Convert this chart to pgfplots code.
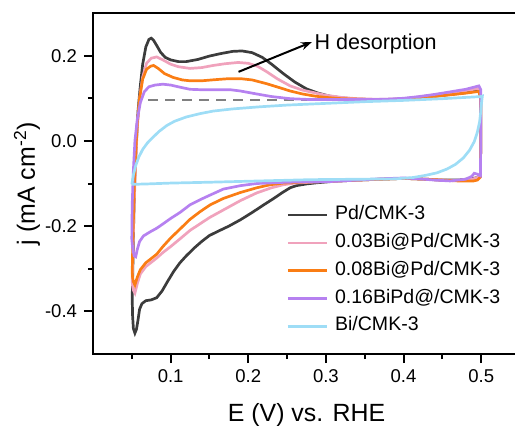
\documentclass[border=0pt]{standalone}
\usepackage{fontspec}
\setmainfont{Liberation Sans}
\usepackage{pgfplots}
\pgfplotsset{compat=1.18}
\usetikzlibrary{arrows.meta}

\definecolor{cPd}{HTML}{3C3C3C}
\definecolor{cA}{HTML}{F0A2BC}
\definecolor{cB}{HTML}{FA7D14}
\definecolor{cC}{HTML}{B681F0}
\definecolor{cD}{HTML}{9EDDF6}

\begin{document}
\begin{tikzpicture}
\begin{axis}[
  at={(0,0)}, anchor=south west,
  scale only axis, width=213.5bp, height=170.5bp,
  xmin=0, xmax=0.55, ymin=-0.5, ymax=0.3,
  xtick={0.1,0.2,0.3,0.4,0.5}, xticklabels={0.1,0.2,0.3,0.4,0.5},
  ytick={-0.4,-0.2,0,0.2}, yticklabels={-0.4,-0.2,0.0,0.2},
  minor xtick={0.05,0.15,0.25,0.35,0.45},
  minor ytick={-0.3,-0.1,0.1},
  xtick pos=bottom, ytick pos=left,
  tick align=outside,
  major tick length=4.5bp, minor tick length=2.6bp,
  every tick/.style={black, line width=1bp},
  axis line style={line width=1bp},
  tick label style={font=\fontsize{9.3}{11}\selectfont},
  xlabel={E (V) vs. RHE},
  ylabel={j (mA cm\textsuperscript{-2})},
  label style={font=\fontsize{12.5}{15}\selectfont},
  xlabel style={at={(axis description cs:0.5,-0.1994)}, anchor=base},
  ylabel style={at={(axis description cs:-0.136,0.5)}, anchor=base},
  legend style={at={(rel axis cs:0.452,0.442)}, anchor=north west, draw=none, fill=none,
    inner sep=0pt, row sep=2.5bp, font=\fontsize{9.8}{12}\selectfont,
    nodes={inner sep=1bp, text height=7bp, text depth=2.4bp},
    /tikz/every odd column/.append style={column sep=2.5bp}},
  legend cell align=left,
  legend image code/.code={\draw[#1] (0bp,0bp) -- (19.5bp,0bp);},
  every axis plot/.append style={line width=1.35bp, mark=none},
]
% baseline guide
\addplot[forget plot, color=gray, line width=1bp, dash pattern=on 5bp off 3.5bp]
  coordinates {(0.071,0.097) (0.39,0.097)};

% Pd/CMK-3
\addplot[cPd] coordinates {
(0.0505,-0.37) (0.0515,-0.28) (0.0525,-0.18) (0.054,-0.08) (0.056,0.0) (0.058,0.07)
(0.061,0.13) (0.064,0.18) (0.068,0.22) (0.072,0.238) (0.075,0.241) (0.078,0.236)
(0.082,0.224) (0.087,0.208) (0.093,0.196) (0.100,0.190) (0.110,0.186) (0.120,0.186)
(0.135,0.191) (0.150,0.199) (0.165,0.205) (0.180,0.210) (0.192,0.211) (0.205,0.207)
(0.218,0.196) (0.230,0.180) (0.245,0.158) (0.260,0.138) (0.275,0.122) (0.290,0.112)
(0.305,0.105) (0.32,0.101) (0.34,0.098) (0.36,0.097) (0.38,0.097) (0.40,0.098)
(0.42,0.101) (0.44,0.105) (0.46,0.109) (0.48,0.113) (0.497,0.118)
(0.4995,0.10) (0.4995,0.0) (0.499,-0.08)
(0.495,-0.086) (0.49,-0.088) (0.47,-0.092) (0.45,-0.092) (0.43,-0.090) (0.40,-0.088)
(0.37,-0.090) (0.34,-0.092) (0.31,-0.095) (0.29,-0.098) (0.275,-0.101) (0.262,-0.105)
(0.254,-0.110) (0.245,-0.120) (0.232,-0.136) (0.220,-0.150) (0.205,-0.168) (0.19,-0.185)
(0.175,-0.200) (0.16,-0.213) (0.15,-0.222) (0.14,-0.236) (0.13,-0.252) (0.12,-0.270)
(0.112,-0.286) (0.104,-0.306) (0.096,-0.330) (0.089,-0.352) (0.082,-0.368) (0.075,-0.373)
(0.068,-0.375) (0.063,-0.382) (0.060,-0.395) (0.058,-0.42) (0.056,-0.442) (0.054,-0.451)
(0.052,-0.44) (0.051,-0.41) (0.0505,-0.37)};
\addlegendentry{Pd/CMK-3}

% 0.03Bi@Pd/CMK-3
\addplot[cA] coordinates {
(0.0505,-0.33) (0.0515,-0.25) (0.053,-0.15) (0.055,-0.05) (0.057,0.03) (0.060,0.10)
(0.064,0.15) (0.069,0.182) (0.075,0.194) (0.082,0.197) (0.090,0.190) (0.100,0.180)
(0.110,0.174) (0.125,0.170) (0.140,0.172) (0.155,0.177) (0.170,0.181) (0.187,0.184)
(0.200,0.182) (0.212,0.175) (0.224,0.162) (0.238,0.145) (0.254,0.129) (0.270,0.119)
(0.285,0.113) (0.30,0.107) (0.32,0.102) (0.34,0.099) (0.36,0.098) (0.38,0.098)
(0.40,0.099) (0.42,0.103) (0.44,0.108) (0.46,0.113) (0.48,0.118) (0.497,0.123)
(0.4995,0.10) (0.4995,0.0) (0.499,-0.08)
(0.495,-0.086) (0.49,-0.089) (0.47,-0.093) (0.45,-0.092) (0.43,-0.090) (0.40,-0.088)
(0.37,-0.090) (0.34,-0.092) (0.31,-0.095) (0.28,-0.097) (0.26,-0.099) (0.245,-0.103)
(0.230,-0.110) (0.211,-0.122) (0.19,-0.140) (0.168,-0.162) (0.15,-0.180) (0.135,-0.198)
(0.125,-0.210) (0.112,-0.230) (0.100,-0.248) (0.090,-0.262) (0.082,-0.275) (0.075,-0.285)
(0.068,-0.295) (0.061,-0.312) (0.057,-0.335) (0.054,-0.357) (0.052,-0.35) (0.051,-0.34)
(0.0505,-0.33)};
\addlegendentry{0.03Bi@Pd/CMK-3}

% 0.08Bi@Pd/CMK-3
\addplot[cB] coordinates {
(0.0505,-0.31) (0.0515,-0.22) (0.053,-0.12) (0.055,-0.03) (0.057,0.04) (0.060,0.10)
(0.064,0.145) (0.069,0.168) (0.074,0.175) (0.078,0.177) (0.084,0.170) (0.092,0.158)
(0.103,0.149) (0.115,0.143) (0.125,0.141) (0.140,0.141) (0.160,0.144) (0.175,0.146)
(0.19,0.146) (0.205,0.143) (0.224,0.134) (0.24,0.125) (0.254,0.117) (0.27,0.110)
(0.286,0.105) (0.30,0.102) (0.32,0.099) (0.34,0.098) (0.36,0.097) (0.38,0.097)
(0.40,0.098) (0.42,0.101) (0.44,0.104) (0.46,0.108) (0.48,0.112) (0.497,0.116)
(0.4995,0.10) (0.4995,0.0) (0.499,-0.085)
(0.495,-0.092) (0.49,-0.094) (0.47,-0.094) (0.45,-0.092) (0.43,-0.090) (0.40,-0.088)
(0.37,-0.090) (0.34,-0.092) (0.31,-0.094) (0.28,-0.096) (0.245,-0.099) (0.228,-0.103)
(0.211,-0.110) (0.19,-0.121) (0.168,-0.135) (0.151,-0.150) (0.138,-0.166) (0.125,-0.184)
(0.112,-0.207) (0.100,-0.228) (0.090,-0.248) (0.082,-0.266) (0.075,-0.276) (0.068,-0.286)
(0.061,-0.302) (0.057,-0.32) (0.054,-0.338) (0.052,-0.33) (0.051,-0.32) (0.0505,-0.31)};
\addlegendentry{0.08Bi@Pd/CMK-3}

% 0.16BiPd@/CMK-3
\addplot[cC] coordinates {
(0.0500,-0.23) (0.0505,-0.15) (0.052,-0.07) (0.054,0.0) (0.057,0.05) (0.061,0.09)
(0.066,0.115) (0.072,0.127) (0.080,0.131) (0.090,0.133) (0.100,0.131) (0.112,0.126)
(0.125,0.121) (0.14,0.120) (0.16,0.120) (0.177,0.120) (0.19,0.117) (0.211,0.110)
(0.23,0.104) (0.254,0.099) (0.28,0.097) (0.30,0.097) (0.33,0.097) (0.36,0.097)
(0.38,0.098) (0.40,0.100) (0.42,0.104) (0.44,0.109) (0.46,0.115) (0.48,0.121) (0.497,0.129)
(0.4995,0.12) (0.4995,0.0) (0.499,-0.082)
(0.495,-0.078) (0.491,-0.076) (0.488,-0.083) (0.48,-0.090) (0.46,-0.094) (0.44,-0.092)
(0.42,-0.089) (0.40,-0.087) (0.37,-0.089) (0.34,-0.092) (0.31,-0.095) (0.28,-0.096)
(0.25,-0.097) (0.211,-0.100) (0.19,-0.105) (0.168,-0.113) (0.151,-0.127) (0.138,-0.138)
(0.125,-0.150) (0.112,-0.168) (0.100,-0.182) (0.090,-0.195) (0.082,-0.205) (0.074,-0.213)
(0.065,-0.223) (0.060,-0.236) (0.057,-0.255) (0.055,-0.272) (0.053,-0.27) (0.051,-0.25)
(0.0500,-0.23)};
\addlegendentry{0.16BiPd@/CMK-3}

% Bi/CMK-3
\addplot[cD] coordinates {
(0.050,-0.102) (0.052,-0.08) (0.055,-0.058) (0.059,-0.038) (0.064,-0.02) (0.070,-0.005)
(0.077,0.008) (0.085,0.022) (0.095,0.036) (0.105,0.046) (0.12,0.056) (0.138,0.064)
(0.155,0.070) (0.18,0.075) (0.215,0.080) (0.25,0.084) (0.30,0.088) (0.35,0.092)
(0.40,0.095) (0.45,0.099) (0.50,0.104) (0.5015,0.105)
(0.5005,0.09) (0.4995,0.07) (0.498,0.045) (0.495,0.02) (0.491,-0.002) (0.485,-0.022)
(0.477,-0.040) (0.467,-0.055) (0.456,-0.066) (0.443,-0.075) (0.428,-0.081) (0.412,-0.086)
(0.39,-0.089) (0.34,-0.090) (0.28,-0.091) (0.215,-0.094) (0.15,-0.097)
(0.10,-0.099) (0.07,-0.101) (0.050,-0.102)};
\addlegendentry{Bi/CMK-3}

\draw[black, line width=1bp, -{Stealth[length=5.5bp,width=4bp]}]
  (axis cs:0.1875,0.162) -- (axis cs:0.282,0.232);
\node[anchor=base west, inner sep=0pt, font=\fontsize{10.8}{12}\selectfont]
  at (axis cs:0.285,0.2134) {H desorption};
\end{axis}
\pgfresetboundingbox
\path[use as bounding box] (-46.5bp,-36bp) rectangle (211bp,177bp);
\end{tikzpicture}
\end{document}
